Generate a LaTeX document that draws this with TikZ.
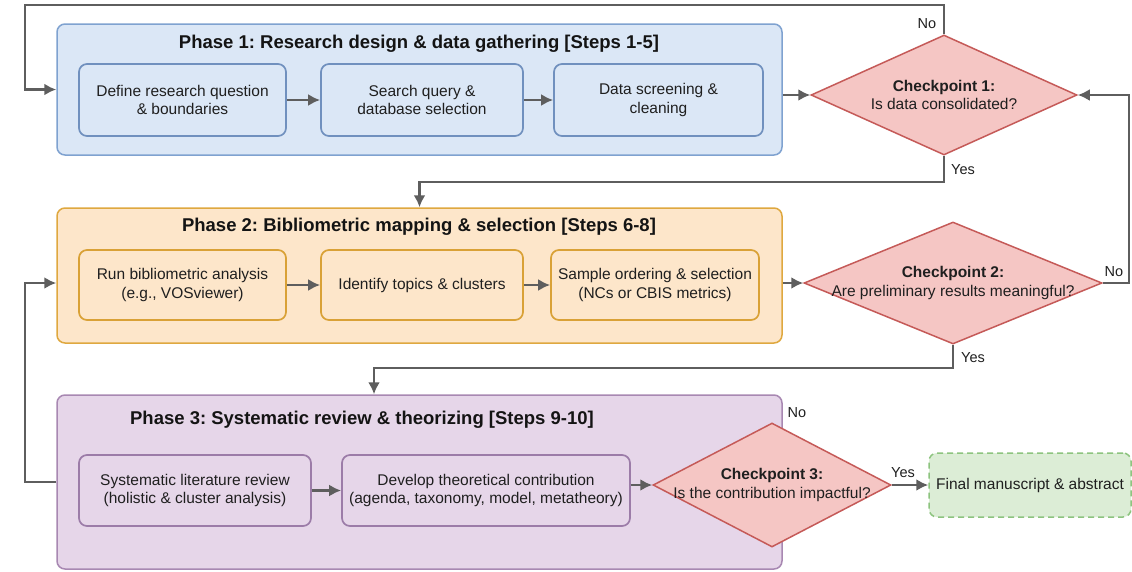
\documentclass[tikz,border=0pt]{standalone}
\usepackage{fontspec}
\setmainfont{Liberation Sans}
\usetikzlibrary{shapes.geometric,arrows.meta}
\frenchspacing

\definecolor{pOneFill}{HTML}{DBE7F6}
\definecolor{pOneLine}{HTML}{7FA2D0}
\definecolor{pOneInner}{HTML}{7090BE}
\definecolor{pTwoFill}{HTML}{FDE6CA}
\definecolor{pTwoLine}{HTML}{DFA83F}
\definecolor{pTwoInner}{HTML}{D9A136}
\definecolor{pThreeFill}{HTML}{E6D6E9}
\definecolor{pThreeLine}{HTML}{A888B2}
\definecolor{pThreeInner}{HTML}{9C7CA8}
\definecolor{checkFill}{HTML}{F5C6C4}
\definecolor{checkLine}{HTML}{C55A58}
\definecolor{endFill}{HTML}{DCEDD6}
\definecolor{endLine}{HTML}{8DC47F}
\definecolor{flow}{HTML}{5E5E5E}

\tikzset{
  phasebox/.style={draw, line width=1.5pt, rounded corners=8pt, inner sep=0pt},
  stepbox/.style={draw, line width=1.7pt, rounded corners=8pt, inner sep=0pt,
    align=center, font=\fontsize{15.5}{18.5}\selectfont, text=black!88},
  phasetitle/.style={font=\bfseries\fontsize{18.5}{21}\selectfont, text=black!92},
  decision/.style={diamond, draw=checkLine, fill=checkFill, line width=1.5pt,
    inner sep=0pt, aspect=2},
  dtext/.style={align=center, font=\fontsize{15.5}{18.5}\selectfont, text=black!88},
  endbox/.style={draw=endLine, fill=endFill, line width=1.5pt, dashed,
    dash pattern=on 6pt off 4pt, rounded corners=8pt, inner sep=0pt,
    align=center, font=\fontsize{15.5}{18.5}\selectfont, text=black!88},
  arr/.style={draw=flow, line width=2.5pt, -{Latex[length=12pt,width=12pt]}},
  ans/.style={font=\fontsize{14.5}{17}\selectfont, text=black!88},
}

\begin{document}
\begin{tikzpicture}[x=1pt,y=-1pt]
\useasboundingbox[fill=white] (0,0) rectangle (1132,571);

% Phase containers
\node[phasebox, draw=pOneLine, fill=pOneFill, minimum width=725pt, minimum height=131pt] (p1) at (419.5,89.5) {};
\node[phasebox, draw=pTwoLine, fill=pTwoFill, minimum width=725pt, minimum height=135pt] (p2) at (419.5,275.5) {};
\node[phasebox, draw=pThreeLine, fill=pThreeFill, minimum width=725pt, minimum height=174pt] (p3) at (419.5,482) {};

% Phase titles
\node[phasetitle] (t1) at (419,44) {Phase 1: Research design \& data gathering [Steps 1-5]};
\node[phasetitle] (t2) at (419,227) {Phase 2: Bibliometric mapping \& selection [Steps 6-8]};
\node[phasetitle] (t3) at (362,420) {Phase 3: Systematic review \& theorizing [Steps 9-10]};

% Phase 1 steps
\node[stepbox, draw=pOneInner, fill=pOneFill, minimum width=207pt, minimum height=72pt] (b11) at (182.5,100) {Define research question\\\& boundaries};
\node[stepbox, draw=pOneInner, fill=pOneFill, minimum width=202pt, minimum height=72pt] (b12) at (422,100) {Search query \&\\database selection};
\node[stepbox, draw=pOneInner, fill=pOneFill, minimum width=209pt, minimum height=72pt] (b13) at (658.5,100) {Data screening \&\\cleaning};

% Phase 2 steps
\node[stepbox, draw=pTwoInner, fill=pTwoFill, minimum width=207pt, minimum height=70pt] (b21) at (182.5,285) {Run bibliometric analysis\\(e.g., VOSviewer)};
\node[stepbox, draw=pTwoInner, fill=pTwoFill, minimum width=202pt, minimum height=70pt] (b22) at (422,285) {Identify topics \& clusters};
\node[stepbox, draw=pTwoInner, fill=pTwoFill, minimum width=208pt, minimum height=70pt] (b23) at (655,285) {Sample ordering \& selection\\(NCs or CBIS metrics)};

% Phase 3 steps
\node[stepbox, draw=pThreeInner, fill=pThreeFill, minimum width=232pt, minimum height=71pt] (b31) at (195,490.5) {Systematic literature review\\(holistic \& cluster analysis)};
\node[stepbox, draw=pThreeInner, fill=pThreeFill, minimum width=288pt, minimum height=71pt] (b32) at (486,490.5) {Develop theoretical contribution\\(agenda, taxonomy, model, metatheory)};

% Checkpoints
\node[decision, minimum width=266pt, minimum height=120pt,
  label={[dtext]center:{\textbf{Checkpoint 1:}\\Is data consolidated?}}] (d1) at (944,95) {};
\node[decision, minimum width=298pt, minimum height=122pt,
  label={[dtext]center:{\textbf{Checkpoint 2:}\\Are preliminary results meaningful?}}] (d2) at (953,283) {};
\node[decision, minimum width=238pt, minimum height=124pt,
  label={[dtext]center:{\textbf{Checkpoint 3:}\\Is the contribution impactful?}}] (d3) at (772,485) {};

% Final output
\node[endbox, minimum width=202pt, minimum height=64pt] (fin) at (1030,485) {Final manuscript \& abstract};

% Routing points
\coordinate (loopTop) at (25,5);
\coordinate (yesOne) at (419.5,182);
\coordinate (loopRight) at (1129,283);
\coordinate (yesTwo) at (374,368);
\coordinate (loopLeft) at (25,482);

% Flow within phases
\draw[arr] (b11) -- (b12);
\draw[arr] (b12) -- (b13);
\draw[arr] (b21) -- (b22);
\draw[arr] (b22) -- (b23);
\draw[arr] (b31) -- (b32);
\draw[arr] (b32.east |- d3) -- (d3.west);

% Phase exits into checkpoints
\draw[arr] (p1.east |- d1) -- (d1.west);
\draw[arr] (p2.east |- d2) -- (d2.west);
\draw[arr] (d3.east) -- (fin.west);

% Checkpoint branches
\draw[arr] (d1.north) |- (loopTop) |- (p1.west);
\draw[arr] (d1.south) |- (yesOne) -- (p2.north);
\draw[arr] (d2.east) -- (loopRight) |- (d1.east);
\draw[arr] (d2.south) |- (yesTwo) -- (yesTwo |- p3.north);
\draw[arr] (p3.west) -- (loopLeft) |- (p2.west |- d2);

% Branch labels
\node[ans] (no1) at (927,24) {No};
\node[ans] (yes1) at (963,170) {Yes};
\node[ans] (no2) at (1114,272) {No};
\node[ans] (yes2) at (973,358) {Yes};
\node[ans] (yes3) at (903,473) {Yes};
\node[ans] (no3) at (797,413) {No};
\end{tikzpicture}
\end{document}
